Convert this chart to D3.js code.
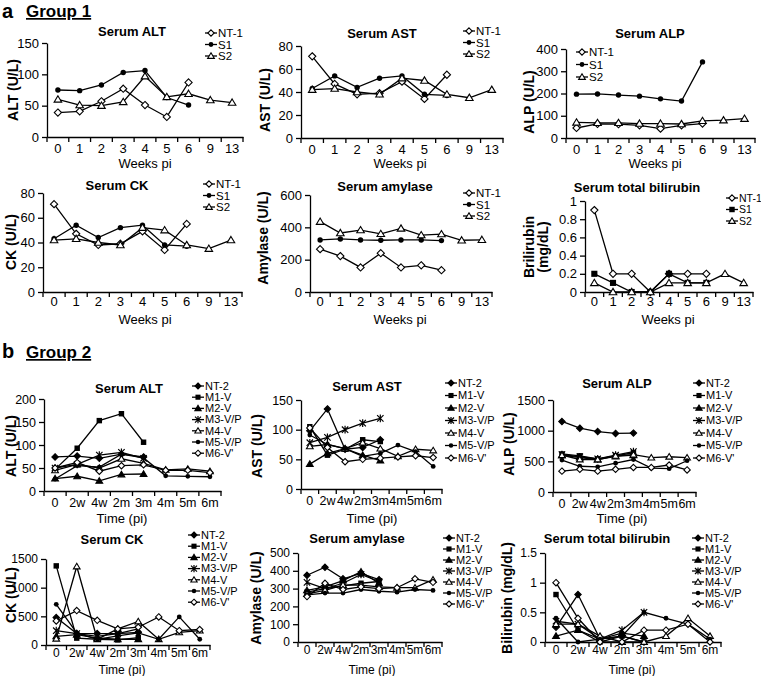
<!DOCTYPE html>
<html><head><meta charset="utf-8">
<script src="https://cdn.jsdelivr.net/npm/d3@7"></script>
<style>body{margin:0;background:#fff} text{font-family:Arial,"Liberation Sans",sans-serif;fill:#000}</style>
</head><body><svg id="c" width="761" height="676"></svg>
<script>
// ---------- categories / series ----------
const weeksG1 = ["0","1","2","3","4","5","6","9","13"];
const timeG2 = ["0","2w","4w","2m","3m","4m","5m","6m"];
const seriesG1 = ["NT-1","S1","S2"];
const seriesG2 = ["NT-2","M1-V","M2-V","M3-V/P","M4-V","M5-V/P","M6-V'"];

// ---------- Group 1 values (NT-1, S1, S2) ----------
const g1ALT = [[39,41,57,77,51,32,87],[75,74,83,103,106,63,51],[60,51,50,56,97,64,69,59,55]];
const g1AST = [[71,47,38,39,49,34,55],[43,54,44,52,54,38,37],[42,43,40,38,52,50,38,35,42]];
const g1ALP = [[45,63,62,57,42,57,65],[197,198,193,188,176,166,342],[70,68,68,65,65,63,77,80,87]];
const g1CK  = [[71,47,38,39,49,34,55],[43,54,44,52,54,38,37],[42,43,40,38,52,50,38,35,42]];
const g1AMY = [[265,222,152,240,152,165,135],[322,328,322,320,322,322,318],[435,365,383,360,393,352,358,320,323]];
const g1BIL = [[0.9,0.2,0.2,0,0.2,0.2,0.2],[0.2,0.1,0,0,0.2,0.1,0.1],[0.1,0,0,0,0.1,0.1,0.1,0.2,0.1]];

// ---------- Group 2 values (NT-2, M1-V, M2-V, M3-V/P, M4-V, M5-V/P, M6-V') ----------
const g2ALT = [[74,76,71,80,74],[47,93,153,168,106],[27,32,22,36,37],[50,58,78,84,71],
               [45,58,50,70,60,46,48,43],[26,55,52,80,72,33,32,31],[50,62,43,55,57,45,45,40]];
const g2AST = [[98,135,67,70,83],[105,57,67,83,80],[42,60,68,57,48],[78,87,100,111,119],
               [72,75,68,78,68,55,67,65],[91,75,68,55,60,74,63,38],[103,70,46,50,52,54,56,53]];
const g2ALP = [[1150,1040,985,955,960],[620,590,540,590,640],[600,560,530,580,600],[610,575,540,600,660],
               [600,530,530,590,610,560,575,560],[520,420,410,470,530,390,380,510],[340,370,340,370,400,400,440,360]];
const g2CK  = [[480,200,200,200,220],[1380,120,100,90,130],[150,180,120,100,100],[250,200,150,200,280],
               [110,1370,100,280,410,100,220,250],[710,210,100,160,210,100,490,100],[420,600,430,280,310,490,250,270]];
const g2AMY = [[375,420,355,385,350],[280,300,315,330,340],[290,310,345,395,330],[335,300,330,380,340],
               [270,290,320,320,310,305,305,350],[265,275,275,295,285,280,295,290],[255,330,295,310,300,305,355,335]];
const g2BIL = [[0.25,0.8,0.05,0.1,0],[0.8,0.2,0,0.1,0],[0.1,0.2,0.05,0.15,0.1],[0.35,0.3,0.05,0.2,0.5],
               [0.3,0.3,0.1,0,0,0.1,0.4,0.1],[0.4,0,0.05,0.1,0.5,0.4,0.3,0.05],[1.0,0.4,0,0,0.2,0.2,0.3,0]];

// ---------- tick values ----------
const tALT1 = [0,50,100,150], tAST1 = [0,20,40,60,80], tALP1 = [0,100,200,300,400];
const tCK1 = [0,20,40,60,80], tAMY1 = [0,200,400,600], tBIL1 = [0,0.2,0.4,0.6,0.8,1];
const tALT2 = [0,50,100,150,200], tAST2 = [0,50,100,150], tALP2 = [0,500,1000,1500];
const tCK2 = [0,500,1000,1500], tAMY2 = [0,100,200,300,400,500], tBIL2 = [0,0.5,1,1.5];

const mk1 = ["dOpen","cFill","tOpen"];
const mk1b = ["dOpen","sFill","tOpen"];
const mk2 = ["dFill","sFill","tFill","ast","tOpen","cFill","dOpen"];

const svg = d3.select("#c");

function marker(g, type, x, y, s) {
  const fillOpen = "#fff", st = "#000";
  if (type[0] === "d") {
    g.append("path").attr("d", `M${x},${y-s}L${x+s},${y}L${x},${y+s}L${x-s},${y}Z`)
      .attr("fill", type === "dOpen" ? fillOpen : "#000").attr("stroke", st).attr("stroke-width", 1.1);
  } else if (type[0] === "t") {
    g.append("path").attr("d", `M${x},${y-s}L${x+s*1.05},${y+s*0.75}L${x-s*1.05},${y+s*0.75}Z`)
      .attr("fill", type === "tOpen" ? fillOpen : "#000").attr("stroke", st).attr("stroke-width", 1.1);
  } else if (type === "sFill") {
    g.append("rect").attr("x", x-s*0.85).attr("y", y-s*0.85).attr("width", s*1.7).attr("height", s*1.7).attr("fill", "#000");
  } else if (type === "cFill") {
    g.append("circle").attr("cx", x).attr("cy", y).attr("r", s*0.75).attr("fill", "#000");
  } else if (type === "ast") {
    const a = s;
    g.append("path").attr("d", `M${x-a},${y-a}L${x+a},${y+a}M${x-a},${y+a}L${x+a},${y-a}M${x},${y-a*1.2}L${x},${y+a*1.2}`)
      .attr("stroke", st).attr("stroke-width", 1.2).attr("fill", "none");
  }
}

function panel(c) {
  const g = svg.append("g");
  const x = d3.scaleBand().domain(c.cats).range(c.xr).padding(0);
  const y = d3.scaleLinear().domain([c.ticks[0], c.ticks[c.ticks.length-1]]).range(c.yr);
  const bw = x.bandwidth();
  // y axis
  const ya = g.append("g").attr("transform", `translate(${c.xr[0]},0)`)
    .call(d3.axisLeft(y).tickValues(c.ticks).tickSize(5).tickSizeOuter(0).tickPadding(3)
      .tickFormat(d => String(d)));
  ya.select(".domain").attr("stroke", "#000").attr("stroke-width", 1.3);
  ya.selectAll(".tick line").attr("stroke", "#000").attr("stroke-width", 1.3);
  ya.selectAll(".tick text").attr("font-size", c.fs || 13).attr("font-family", "Arial, 'Liberation Sans', sans-serif");
  // x axis
  const xa = g.append("g").attr("transform", `translate(0,${c.yr[0]})`)
    .call(d3.axisBottom(x).tickSize(0).tickPadding(c.xpad || 7).tickSizeOuter(0));
  xa.select(".domain").attr("stroke", "#000").attr("stroke-width", 1.3);
  xa.selectAll(".tick text").attr("font-size", c.fs || 13).attr("font-family", "Arial, 'Liberation Sans', sans-serif");
  c.cats.concat([null]).forEach((d, i) => {
    const bx = c.xr[0] + i * bw;
    g.append("line").attr("x1", bx).attr("x2", bx).attr("y1", c.yr[0]).attr("y2", c.yr[0] + 5)
      .attr("stroke", "#000").attr("stroke-width", 1.3);
  });
  // series
  c.data.forEach((vals, si) => {
    const pts = vals.map((v, i) => [x(c.cats[i]) + bw/2, y(v)]);
    g.append("path").attr("d", d3.line()(pts)).attr("fill", "none").attr("stroke", "#000").attr("stroke-width", 1.3);
    pts.forEach(p => marker(g, c.mk[si], p[0], p[1], c.ms || 3.6));
  });
  // title
  g.append("text").attr("x", c.title[1]).attr("y", c.title[2]).attr("text-anchor", "middle")
    .attr("font-size", 13).attr("font-weight", "bold").text(c.title[0]);
  // y label
  const yl = g.append("text").attr("transform", `translate(${c.ylab[1]},${c.ylab[2]}) rotate(-90)`)
    .attr("text-anchor", "middle").attr("font-size", 14).attr("font-weight", "bold");
  if (Array.isArray(c.ylab[0])) {
    c.ylab[0].forEach((t, i) => yl.append("tspan").attr("x", 0).attr("dy", i ? 14 : 0).text(t));
  } else yl.text(c.ylab[0]);
  // x label
  g.append("text").attr("x", c.xlab[1]).attr("y", c.xlab[2]).attr("text-anchor", "middle")
    .attr("font-size", c.xlfs || 13).text(c.xlab[0]);
  // legend
  c.series.forEach((s, i) => {
    const ly = c.leg[1] + i * c.leg[2], lx = c.leg[0];
    g.append("line").attr("x1", lx).attr("x2", lx + 12).attr("y1", ly).attr("y2", ly).attr("stroke", "#000").attr("stroke-width", 1.3);
    marker(g, c.mk[i], lx + 6, ly, c.lms || 3.2);
    g.append("text").attr("x", lx + 13).attr("y", ly).attr("dy", "0.35em").attr("font-size", c.lfs || 11.5).text(s);
  });
}

// headers
svg.append("text").attr("x", 2).attr("y", 18).attr("font-size", 20).attr("font-weight", "bold").text("a");
svg.append("text").attr("x", 26).attr("y", 17).attr("font-size", 17).attr("font-weight", "bold")
  .attr("font-family", "'Liberation Serif', 'Times New Roman', serif").attr("text-decoration", "underline").text("Group 1");
svg.append("text").attr("x", 2).attr("y", 358).attr("font-size", 20).attr("font-weight", "bold").text("b");
svg.append("text").attr("x", 26).attr("y", 358).attr("font-size", 17).attr("font-weight", "bold")
  .attr("font-family", "'Liberation Serif', 'Times New Roman', serif").attr("text-decoration", "underline").text("Group 2");

// Group 1
panel({cats: weeksG1, series: seriesG1, data: g1ALT, ticks: tALT1, mk: mk1, xr: [47, 243], yr: [137, 43],
  title: ["Serum ALT", 132, 36], ylab: ["ALT (U/L)", 18, 90], xlab: ["Weeks pi", 145, 168], leg: [205, 33, 11.5]});
panel({cats: weeksG1, series: seriesG1, data: g1AST, ticks: tAST1, mk: mk1, xr: [301, 503], yr: [138, 46],
  title: ["Serum AST", 382, 38], ylab: ["AST (U/L)", 270, 100], xlab: ["Weeks pi", 400, 168], leg: [463, 31, 11.5]});
panel({cats: weeksG1, series: seriesG1, data: g1ALP, ticks: tALP1, mk: mk1, xr: [566, 755], yr: [138, 49],
  title: ["Serum ALP", 650, 38], ylab: ["ALP (U/L)", 534, 102], xlab: ["Weeks pi", 655, 168], leg: [576, 52, 12.5]});
panel({cats: weeksG1, series: seriesG1, data: g1CK, ticks: tCK1, mk: mk1, xr: [43, 242], yr: [292, 193],
  title: ["Serum CK", 117, 190], ylab: ["CK (U/L)", 16, 242], xlab: ["Weeks pi", 145, 324], leg: [203, 184, 11.5], xpad: 5});
panel({cats: weeksG1, series: seriesG1, data: g1AMY, ticks: tAMY1, mk: mk1, xr: [310, 492], yr: [292, 195],
  title: ["Serum amylase", 385, 191], ylab: ["Amylase (U/L)", 268, 238], xlab: ["Weeks pi", 400, 324], leg: [463, 193, 11.5], xpad: 5});
panel({cats: weeksG1, series: seriesG1, data: g1BIL, ticks: tBIL1, mk: mk1b, xr: [585, 753], yr: [292, 201],
  title: ["Serum total bilirubin", 637, 192], ylab: [["Brilirubin", "(mg/dL)"], 534, 247], xlab: ["Weeks pi", 668, 324], leg: [726, 198, 11.5], lfs: 10.5, xpad: 5});

// Group 2
const g2opt = {lfs: 11, lms: 3, ms: 3.2, fs: 12.5};
panel(Object.assign({cats: timeG2, series: seriesG2, data: g2ALT, ticks: tALT2, mk: mk2, xr: [44, 221], yr: [491, 399],
  title: ["Serum ALT", 129, 393], ylab: ["ALT (U/L)", 16, 446], xlab: ["Time (pi)", 122, 523], leg: [192, 386, 11.2]}, g2opt));
panel(Object.assign({cats: timeG2, series: seriesG2, data: g2AST, ticks: tAST2, mk: mk2, xr: [301, 442], yr: [489, 400],
  title: ["Serum AST", 367, 391], ylab: ["AST (U/L)", 262, 446], xlab: ["Time (pi)", 372, 523], leg: [445, 383, 12.5]}, g2opt));
panel(Object.assign({cats: timeG2, series: seriesG2, data: g2ALP, ticks: tALP2, mk: mk2, xr: [553, 696], yr: [492, 400],
  title: ["Serum ALP", 617, 388], ylab: ["ALP (U/L)", 514, 444], xlab: ["Time (pi)", 622, 523], leg: [693, 383, 12.5]}, g2opt));
const g2optB = Object.assign({}, g2opt, {fs: 12, xpad: 3, xlfs: 12});
panel(Object.assign({cats: timeG2, series: seriesG2, data: g2CK, ticks: tCK2, mk: mk2, xr: [46, 210], yr: [645, 559],
  title: ["Serum CK", 112, 544], ylab: ["CK (U/L)", 16, 595], xlab: ["Time (pi)", 122, 674], leg: [188, 535, 11.2]}, g2optB));
panel(Object.assign({cats: timeG2, series: seriesG2, data: g2AMY, ticks: tAMY2, mk: mk2, xr: [298, 442], yr: [642, 553],
  title: ["Serum amylase", 357, 543], ylab: ["Amylase (U/L)", 261, 598], xlab: ["Time (pi)", 372, 674], leg: [443, 538, 11]}, g2optB));
panel(Object.assign({cats: timeG2, series: seriesG2, data: g2BIL, ticks: tBIL2, mk: mk2, xr: [545, 721], yr: [642, 553],
  title: ["Serum total bilirubin", 607, 543], ylab: ["Bilirubin (mg/dL)", 512, 598], xlab: ["Time (pi)", 632, 674], leg: [692, 538, 11]}, g2optB));
</script></body></html>
